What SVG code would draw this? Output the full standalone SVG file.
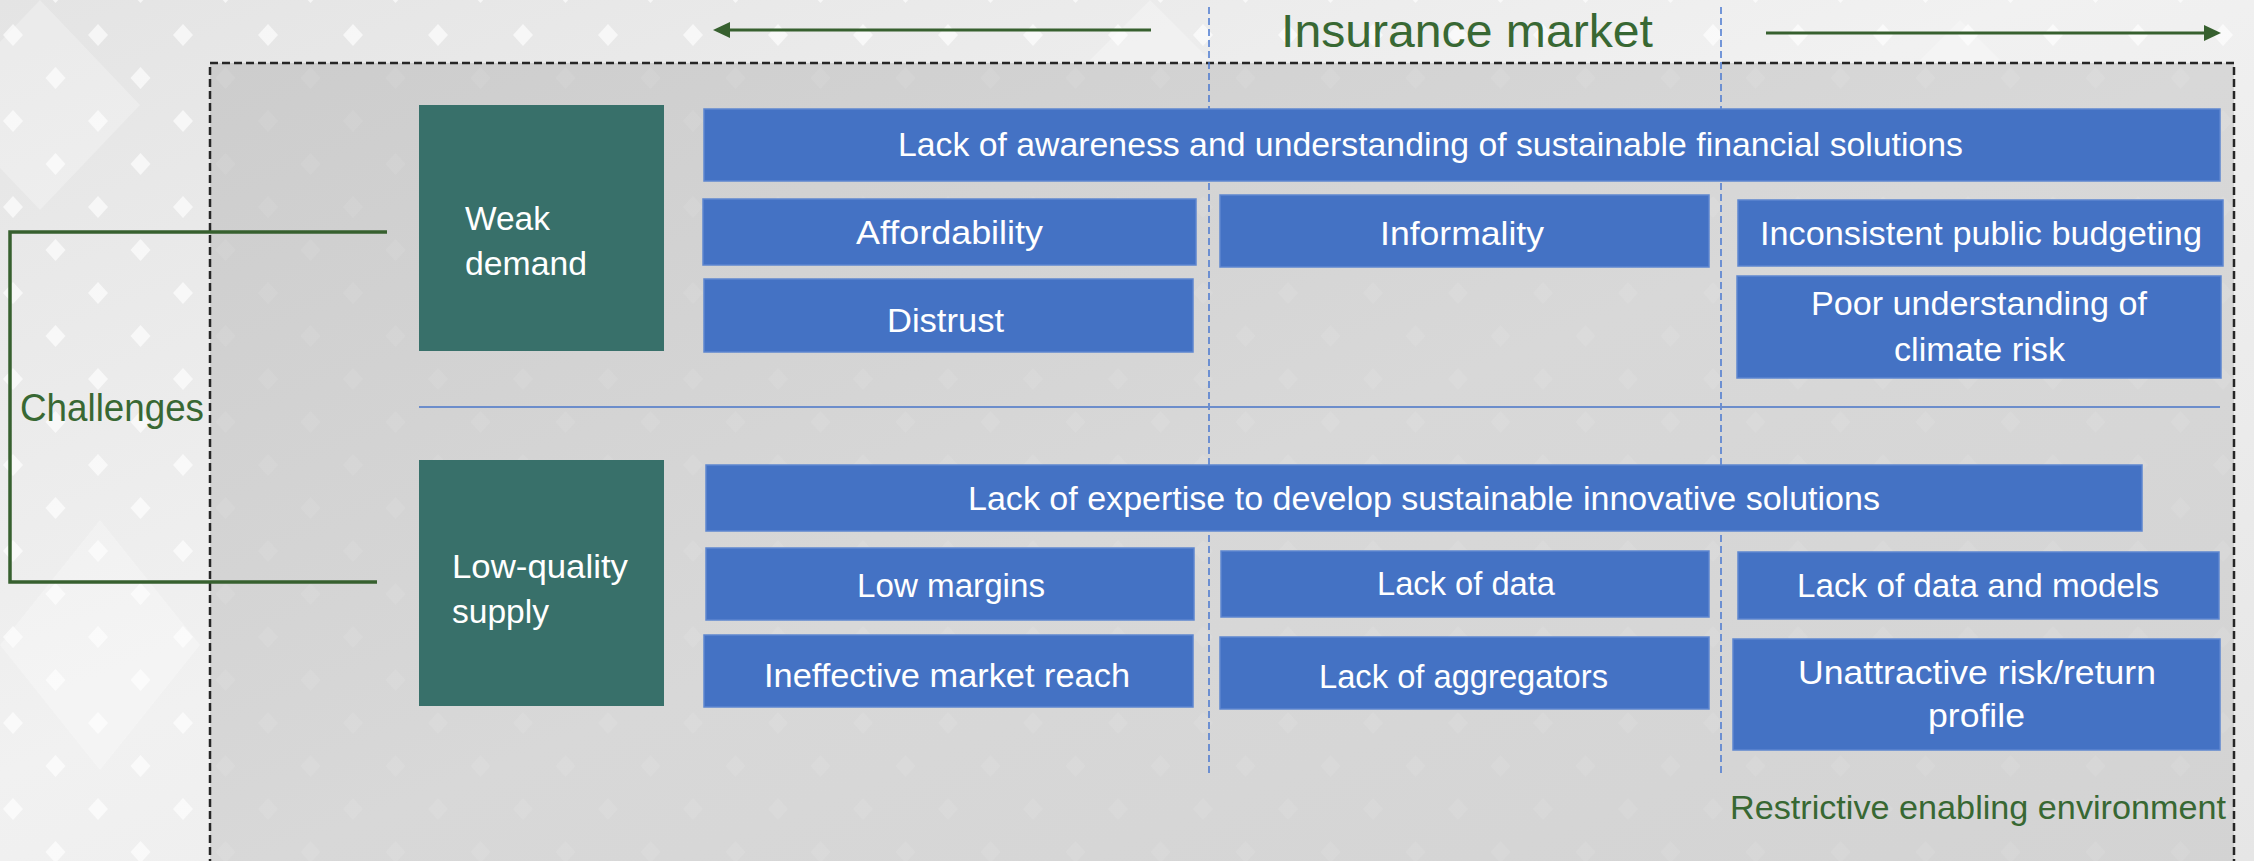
<svg xmlns="http://www.w3.org/2000/svg" width="2254" height="861" viewBox="0 0 2254 861">
  <defs>
    <style>
      .t { font-family: "Liberation Sans", Arial, sans-serif; font-size: 33px; fill: #ffffff; }
      .g { font-family: "Liberation Sans", Arial, sans-serif; fill: #386833; }
      .box { fill: #4472C4; stroke: #5d86d0; stroke-width: 1.5; }
      .cat { fill: #38706A; }
      .guide { stroke: #4a78d0; stroke-width: 1.5; stroke-dasharray: 7 4; fill: none; }
      .bracket { stroke: #37602f; stroke-width: 3.5; fill: none; }
      .span { stroke: #37602f; stroke-width: 3; fill: none; }
    </style>
    <linearGradient id="bgGrad" x1="0" y1="0" x2="1" y2="1">
      <stop offset="0" stop-color="#e4e4e4"/>
      <stop offset="0.45" stop-color="#f1f1f1"/>
      <stop offset="1" stop-color="#e6e6e6"/>
    </linearGradient>
    <linearGradient id="panelGrad" x1="0" y1="0" x2="1" y2="1">
      <stop offset="0" stop-color="#cdcdcd"/>
      <stop offset="0.5" stop-color="#d8d8d8"/>
      <stop offset="1" stop-color="#d3d3d3"/>
    </linearGradient>
    <pattern id="diamonds" x="13" y="35" width="85" height="86" patternUnits="userSpaceOnUse">
      <path d="M0,-11 L10,0 L0,11 L-10,0 Z" fill="#ffffff"/>
      <path d="M85,-11 L95,0 L85,11 L75,0 Z" fill="#ffffff"/>
      <path d="M0,75 L10,86 L0,97 L-10,86 Z" fill="#ffffff"/>
      <path d="M85,75 L95,86 L85,97 L75,86 Z" fill="#ffffff"/>
      <path d="M42.5,32 L52.5,43 L42.5,54 L32.5,43 Z" fill="#ffffff"/>
    </pattern>
    <marker id="arrowHead" markerUnits="userSpaceOnUse" markerWidth="18" markerHeight="18" viewBox="0 0 18 18" refX="4" refY="9" orient="auto">
      <path d="M0,1 L17,9 L0,17 Z" fill="#37602f"/>
    </marker>
  </defs>

  <!-- backdrop -->
  <rect x="0" y="0" width="2254" height="861" fill="url(#bgGrad)"/>
  <rect x="0" y="0" width="2254" height="861" fill="url(#diamonds)" opacity="0.65"/>
  <g fill="#ffffff" opacity="0.25">
    <path d="M40,0 L140,105 L40,210 L-60,105 Z"/>
    <path d="M100,520 L200,645 L100,770 L0,645 Z"/>
    <path d="M1150,0 L1260,110 L1150,220 L1040,110 Z"/>
    <path d="M1960,20 L2060,120 L1960,220 L1860,120 Z"/>
  </g>

  <!-- market panel -->
  <rect x="210" y="63" width="2024" height="820" fill="url(#panelGrad)"/>
  <rect x="210" y="63" width="2024" height="820" fill="url(#diamonds)" opacity="0.07"/>
  <rect x="210" y="63" width="2024" height="820" fill="none" stroke="#262626" stroke-width="2.5" stroke-dasharray="8 4"/>

  <!-- column guides and row separator -->
  <g id="guides">
    <line class="guide" x1="1209" y1="7" x2="1209" y2="773"/>
    <line class="guide" x1="1721" y1="7" x2="1721" y2="773"/>
    <line x1="419" y1="407" x2="2220" y2="407" stroke="#6c8dcb" stroke-width="2"/>
  </g>

  <!-- title with span arrows -->
  <g id="title">
    <text class="g" x="1281" y="47" font-size="47" textLength="372" lengthAdjust="spacingAndGlyphs">Insurance market</text>
  </g>

  <g id="connectors">
    <line class="span" x1="1151" y1="30" x2="726" y2="30" marker-end="url(#arrowHead)"/>
    <line class="span" x1="1766" y1="33" x2="2208" y2="33" marker-end="url(#arrowHead)"/>
    <polyline class="bracket" points="387,232 10,232 10,582 377,582"/>
  </g>

  <g id="challenges">
    <text class="g" x="20" y="421" font-size="38" textLength="184" lengthAdjust="spacingAndGlyphs">Challenges</text>
  </g>

  <!-- demand side -->
  <g id="weak-demand">
    <rect class="cat" x="419" y="105" width="245" height="246"/>
    <text class="t" x="465" y="230" textLength="85" lengthAdjust="spacingAndGlyphs">Weak</text>
    <text class="t" x="465" y="275" textLength="122" lengthAdjust="spacingAndGlyphs">demand</text>
  </g>
  <g id="awareness">
    <rect class="box" x="704" y="109" width="1516" height="72"/>
    <text class="t" x="898" y="156" textLength="1065" lengthAdjust="spacingAndGlyphs">Lack of awareness and understanding of sustainable financial solutions</text>
  </g>
  <g id="affordability">
    <rect class="box" x="703" y="199" width="493" height="66"/>
    <text class="t" x="856" y="244" textLength="187" lengthAdjust="spacingAndGlyphs">Affordability</text>
  </g>
  <g id="distrust">
    <rect class="box" x="704" y="279" width="489" height="73"/>
    <text class="t" x="887" y="332" textLength="117" lengthAdjust="spacingAndGlyphs">Distrust</text>
  </g>
  <g id="informality">
    <rect class="box" x="1220" y="195" width="489" height="72"/>
    <text class="t" x="1380" y="245" textLength="164" lengthAdjust="spacingAndGlyphs">Informality</text>
  </g>
  <g id="public-budgeting">
    <rect class="box" x="1738" y="200" width="485" height="66"/>
    <text class="t" x="1760" y="245" textLength="442" lengthAdjust="spacingAndGlyphs">Inconsistent public budgeting</text>
  </g>
  <g id="climate-risk">
    <rect class="box" x="1737" y="276" width="484" height="102"/>
    <text class="t" x="1811" y="315" textLength="336" lengthAdjust="spacingAndGlyphs">Poor understanding of</text>
    <text class="t" x="1894" y="361" textLength="171" lengthAdjust="spacingAndGlyphs">climate risk</text>
  </g>

  <!-- supply side -->
  <g id="low-quality-supply">
    <rect class="cat" x="419" y="460" width="245" height="246"/>
    <text class="t" x="452" y="578" textLength="176" lengthAdjust="spacingAndGlyphs">Low-quality</text>
    <text class="t" x="452" y="623" textLength="97" lengthAdjust="spacingAndGlyphs">supply</text>
  </g>
  <g id="expertise">
    <rect class="box" x="706" y="465" width="1436" height="66"/>
    <text class="t" x="968" y="510" textLength="912" lengthAdjust="spacingAndGlyphs">Lack of expertise to develop sustainable innovative solutions</text>
  </g>
  <g id="low-margins">
    <rect class="box" x="706" y="548" width="488" height="72"/>
    <text class="t" x="857" y="597" textLength="188" lengthAdjust="spacingAndGlyphs">Low margins</text>
  </g>
  <g id="market-reach">
    <rect class="box" x="704" y="635" width="489" height="72"/>
    <text class="t" x="764" y="687" textLength="366" lengthAdjust="spacingAndGlyphs">Ineffective market reach</text>
  </g>
  <g id="lack-of-data">
    <rect class="box" x="1221" y="551" width="488" height="66"/>
    <text class="t" x="1377" y="595" textLength="178" lengthAdjust="spacingAndGlyphs">Lack of data</text>
  </g>
  <g id="aggregators">
    <rect class="box" x="1220" y="637" width="489" height="72"/>
    <text class="t" x="1319" y="688" textLength="289" lengthAdjust="spacingAndGlyphs">Lack of aggregators</text>
  </g>
  <g id="data-and-models">
    <rect class="box" x="1738" y="552" width="481" height="67"/>
    <text class="t" x="1797" y="597" textLength="362" lengthAdjust="spacingAndGlyphs">Lack of data and models</text>
  </g>
  <g id="risk-return">
    <rect class="box" x="1733" y="639" width="487" height="111"/>
    <text class="t" x="1798" y="684" textLength="358" lengthAdjust="spacingAndGlyphs">Unattractive risk/return</text>
    <text class="t" x="1928" y="727" textLength="97" lengthAdjust="spacingAndGlyphs">profile</text>
  </g>

  <g id="enabling-environment">
    <text class="g" x="1730" y="819" font-size="33" textLength="496" lengthAdjust="spacingAndGlyphs">Restrictive enabling environment</text>
  </g>
</svg>
